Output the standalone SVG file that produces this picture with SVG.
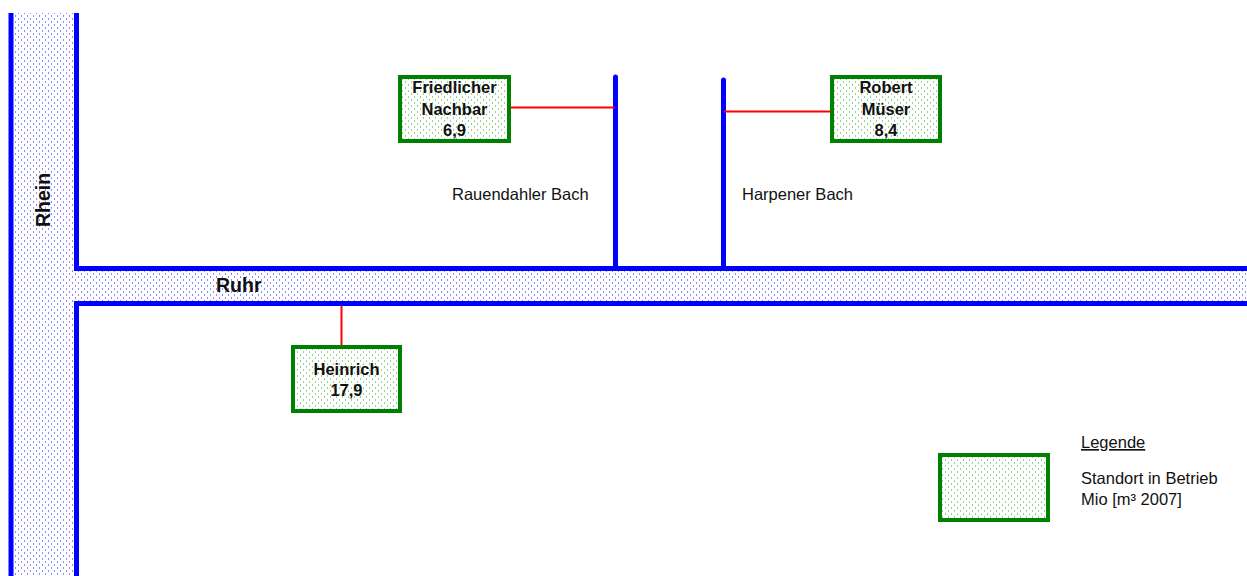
<svg xmlns="http://www.w3.org/2000/svg" width="1247" height="576" viewBox="0 0 1247 576">
  <defs>
    <pattern id="water" width="6" height="6" patternUnits="userSpaceOnUse">
      <rect width="6" height="6" fill="#ffffff"/>
      <rect x="0" y="0" width="1" height="2" fill="#8c8cff"/>
      <rect x="3" y="3" width="1" height="2" fill="#8c8cff"/>
    </pattern>
    <pattern id="site" width="6" height="6" patternUnits="userSpaceOnUse">
      <rect width="6" height="6" fill="#ffffff"/>
      <rect x="0" y="0" width="1" height="2" fill="#8fd48f"/>
      <rect x="3" y="3" width="1" height="2" fill="#8fd48f"/>
    </pattern>
  </defs>
  <style>
    .bank { stroke: #0000ff; stroke-width: 5; fill: none; }
    .brook { stroke: #0000ff; stroke-width: 5; fill: none; stroke-linecap: round; }
    .link { stroke: #ff0000; stroke-width: 2; fill: none; }
    .box { fill: url(#site); stroke: #008000; stroke-width: 4; }
    .lbl { font-family: "Liberation Sans", Arial, sans-serif; font-weight: bold; font-size: 16.5px; fill: #111111; text-anchor: middle; }
    .river { font-family: "Liberation Sans", Arial, sans-serif; font-weight: bold; font-size: 19.5px; fill: #111111; }
    .txt { font-family: "Liberation Sans", Arial, sans-serif; font-size: 16.5px; fill: #111111; }
  </style>

  <!-- rivers -->
  <g id="rhein">
    <rect x="13" y="13" width="62" height="563" fill="url(#water)"/>
    <line class="bank" x1="11" y1="13" x2="11" y2="576"/>
    <line class="bank" x1="76.5" y1="13" x2="76.5" y2="271"/>
    <line class="bank" x1="76.5" y1="301" x2="76.5" y2="576"/>
    <text class="river" transform="translate(50,200) rotate(-90)" text-anchor="middle">Rhein</text>
  </g>
  <g id="ruhr">
    <rect x="74" y="271" width="1173" height="30" fill="url(#water)"/>
    <line class="bank" x1="74" y1="268.5" x2="1247" y2="268.5"/>
    <line class="bank" x1="74" y1="303.5" x2="1247" y2="303.5"/>
    <text class="river" x="216" y="292">Ruhr</text>
  </g>
  <g id="rauendahler-bach">
    <line class="brook" x1="615.5" y1="77" x2="615.5" y2="268"/>
    <text class="txt" x="452" y="200">Rauendahler Bach</text>
  </g>
  <g id="harpener-bach">
    <line class="brook" x1="723.5" y1="80" x2="723.5" y2="268"/>
    <text class="txt" x="742" y="200">Harpener Bach</text>
  </g>

  <!-- connectors -->
  <g id="connectors">
    <line class="link" x1="511" y1="107.5" x2="615" y2="107.5"/>
    <line class="link" x1="724" y1="111.5" x2="830" y2="111.5"/>
    <line class="link" x1="341.5" y1="306" x2="341.5" y2="345"/>
  </g>

  <!-- sites -->
  <g id="friedlicher-nachbar">
    <rect class="box" x="400" y="77" width="109" height="64"/>
    <text class="lbl" x="454.5" y="93">Friedlicher</text>
    <text class="lbl" x="454.5" y="115">Nachbar</text>
    <text class="lbl" x="454.5" y="136">6,9</text>
  </g>
  <g id="robert-mueser">
    <rect class="box" x="832" y="77" width="108" height="64"/>
    <text class="lbl" x="886" y="93">Robert</text>
    <text class="lbl" x="886" y="115">Müser</text>
    <text class="lbl" x="886" y="136">8,4</text>
  </g>
  <g id="heinrich">
    <rect class="box" x="293" y="347" width="107" height="64"/>
    <text class="lbl" x="346.5" y="375">Heinrich</text>
    <text class="lbl" x="346.5" y="396">17,9</text>
  </g>

  <!-- legend -->
  <g id="legend">
    <rect class="box" x="940" y="455" width="108" height="65"/>
    <text class="txt" x="1081" y="448" text-decoration="underline">Legende</text>
    <text class="txt" x="1081" y="484">Standort in Betrieb</text>
    <text class="txt" x="1081" y="505">Mio [m³ 2007]</text>
  </g>
</svg>
